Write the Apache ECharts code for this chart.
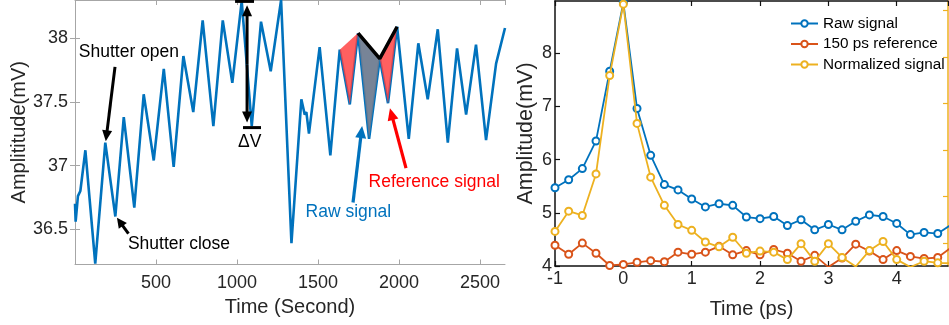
<!DOCTYPE html>
<html>
<head>
<meta charset="utf-8">
<script src="https://cdn.jsdelivr.net/npm/echarts@6/dist/echarts.min.js"></script>
<style>
  html, body { margin: 0; padding: 0; background: #fff; }
  #c { width: 949px; height: 325px; }
</style>
</head>
<body>
<div id="c"></div>
<script>
// ---- Left panel: photodetector amplitude over time (shutter cycling) ----
const rawTime = [0, 4, 18, 33, 64, 125, 187, 249, 301, 366, 424, 486, 548, 609, 669, 730, 788, 854, 912, 971,
  1029, 1091, 1148, 1208, 1272, 1336, 1397, 1418, 1428, 1444, 1510, 1576, 1634, 1696, 1747, 1815, 1881, 1932, 1988,
  2060, 2119, 2177, 2239, 2301, 2358, 2414, 2475, 2537, 2599, 2654];
const rawAmp = [36.70, 36.56, 36.76, 36.80, 37.12, 36.23, 37.18, 36.60, 37.38, 36.67, 37.56, 37.04, 37.76, 36.99, 37.86, 37.42, 38.14, 37.31, 38.14, 37.65,
  38.29, 37.31, 38.13, 37.74, 38.30, 36.39, 37.52, 37.40, 37.42, 37.25, 37.93, 37.08, 37.91, 37.48, 38.04, 37.21, 37.84, 37.49, 38.09,
  37.21, 37.96, 37.52, 38.07, 37.18, 37.92, 37.40, 37.95, 37.20, 37.80, 38.08];
const leftXTicks = [500, 1000, 1500, 2000, 2500];
const leftYTicks = [36.5, 37, 37.5, 38];

// sample indices (peak, trough, peak) of the highlighted dips
const refDips = [[32, 33, 34], [36, 37, 38]];
const rawDips = [[34, 35, 36]];
const envelopeIdx = [34, 36, 38];

// ---- Right panel: pump-probe traces vs delay ----
const delayPs = [-1, -0.8, -0.6, -0.4, -0.2, 0, 0.2, 0.4, 0.6, 0.8, 1, 1.2, 1.4, 1.6, 1.8, 2, 2.2, 2.4, 2.6, 2.8,
  3, 3.2, 3.4, 3.6, 3.8, 4, 4.2, 4.4, 4.6, 4.8];
const rawSignal = [5.47, 5.62, 5.83, 6.35, 7.66, 8.95, 6.96, 6.08, 5.53, 5.43, 5.26, 5.11, 5.17, 5.14, 4.92, 4.89, 4.93, 4.76, 4.87, 4.68,
  4.78, 4.68, 4.84, 4.96, 4.93, 4.80, 4.59, 4.63, 4.61, 4.78];
const refSignal = [4.39, 4.22, 4.43, 4.24, 4.01, 4.03, 4.07, 4.10, 4.08, 4.26, 4.22, 4.26, 4.37, 4.21, 4.29, 4.21, 4.31, 4.24, 4.09, 4.20,
  3.98, 4.15, 4.41, 4.28, 4.12, 4.29, 4.18, 4.14, 4.16, 4.35];
const normSignal = [4.65, 5.03, 4.95, 5.73, 7.58, 8.92, 6.68, 5.67, 5.14, 4.78, 4.67, 4.45, 4.36, 4.54, 4.24, 4.28, 4.26, 4.12, 4.42, 4.09,
  4.42, 4.16, 3.99, 4.29, 4.46, 4.12, 3.98, 4.09, 4.06, 4.05];
const seriesNames = ['Raw signal', '150 ps reference', 'Normalized signal'];

const FONT = '"Liberation Sans", Arial, Helvetica, sans-serif';
const BLUE = '#0072BD', ORANGE = '#D95319', YELLOW = '#EDB120';
const FRAME = '#a6a6a6', TEXT = '#262626';

const pair = (xs, ys) => xs.map((x, i) => [x, ys[i]]);
const tri = idx => idx.map(t => [rawTime[t[0]], rawAmp[t[0]], rawTime[t[1]], rawAmp[t[1]], rawTime[t[2]], rawAmp[t[2]]]);
const plain = v => String(v);

const chart = echarts.init(document.getElementById('c'), null, { renderer: 'canvas' });

const tickLabel = { color: TEXT, fontSize: 18, fontFamily: FONT, formatter: plain };
const nameStyle = { color: TEXT, fontSize: 20, fontFamily: FONT };

function triangleSeries(data, fill, opacity) {
  return {
    type: 'custom', xAxisIndex: 0, yAxisIndex: 0, z: 4,
    data: data,
    encode: { x: [0, 2, 4], y: [1, 3, 5] },
    renderItem: (params, api) => {
      const pts = [0, 1, 2].map(k => api.coord([api.value(2 * k), api.value(2 * k + 1)]));
      return { type: 'polygon', shape: { points: pts }, style: { fill: fill, opacity: opacity } };
    }
  };
}

chart.setOption({
  animation: false,
  backgroundColor: '#fff',
  textStyle: { fontFamily: FONT },
  grid: [
    { left: 75, top: 0, width: 430, height: 264.5 },
    { left: 555, top: 1, width: 393, height: 265 }
  ],
  legend: {
    orient: 'vertical', left: 785, top: 11, itemGap: 5.5, itemWidth: 27, itemHeight: 8,
    data: seriesNames,
    textStyle: { color: '#000', fontSize: 15.3, fontFamily: FONT }
  },
  xAxis: [
    {
      gridIndex: 0, type: 'value', min: 0, max: 2654, interval: 500,
      name: 'Time (Second)', nameLocation: 'middle', nameGap: 33, nameTextStyle: nameStyle,
      axisLine: { show: true, lineStyle: { color: FRAME, width: 1 } },
      axisTick: { inside: true, length: 5, lineStyle: { color: FRAME } },
      axisLabel: Object.assign({ margin: 10, showMinLabel: false, showMaxLabel: false }, tickLabel),
      splitLine: { show: false }
    },
    {
      gridIndex: 0, type: 'value', position: 'top', min: 0, max: 2654, interval: 500,
      axisLine: { show: true, lineStyle: { color: FRAME, width: 1 } },
      axisTick: { inside: true, length: 5, lineStyle: { color: FRAME } },
      axisLabel: { show: false }, splitLine: { show: false }
    },
    {
      gridIndex: 1, type: 'value', min: -1, max: 4.75, interval: 1,
      name: 'Time (ps)', nameLocation: 'middle', nameGap: 33, nameTextStyle: nameStyle,
      axisLine: { show: true, onZero: false, lineStyle: { color: '#111', width: 1.5 } },
      axisTick: { inside: true, length: 5, lineStyle: { color: '#111', width: 1.2 } },
      axisLabel: Object.assign({ margin: 4, showMaxLabel: false }, tickLabel),
      splitLine: { show: false }
    },
    {
      gridIndex: 1, type: 'value', position: 'top', min: -1, max: 4.75, interval: 1,
      axisLine: { show: true, onZero: false, lineStyle: { color: '#111', width: 1.5 } },
      axisTick: { inside: true, length: 5, lineStyle: { color: '#111', width: 1.2 } },
      axisLabel: { show: false }, splitLine: { show: false }
    }
  ],
  yAxis: [
    {
      gridIndex: 0, type: 'value', min: 36.223, max: 38.30,
      name: 'Amplititude(mV)', nameLocation: 'middle', nameGap: 45, nameTextStyle: nameStyle,
      axisLine: { show: true, lineStyle: { color: FRAME, width: 1 } },
      axisTick: { inside: true, length: 5, lineStyle: { color: FRAME }, customValues: leftYTicks },
      axisLabel: Object.assign({ margin: 7, customValues: leftYTicks }, tickLabel),
      splitLine: { show: false }
    },
    {
      gridIndex: 0, type: 'value', position: 'right', min: 36.223, max: 38.30,
      axisLine: { show: true, lineStyle: { color: FRAME, width: 1 } },
      axisTick: { inside: true, length: 5, lineStyle: { color: FRAME }, customValues: leftYTicks },
      axisLabel: { show: false }, splitLine: { show: false }
    },
    {
      gridIndex: 1, type: 'value', min: 4, max: 8.98, interval: 1,
      name: 'Amplitude(mV)', nameLocation: 'middle', nameGap: 18,
      nameTextStyle: { color: TEXT, fontSize: 21.5, fontFamily: FONT },
      axisLine: { show: true, onZero: false, lineStyle: { color: '#111', width: 1.5 } },
      axisTick: { inside: true, length: 5, lineStyle: { color: '#111', width: 1.2 } },
      axisLabel: Object.assign({ margin: 3, showMaxLabel: false }, tickLabel),
      splitLine: { show: false }
    },
    {
      gridIndex: 1, type: 'value', position: 'right', min: 0, max: 5.7,
      axisLine: { show: true, onZero: false, lineStyle: { color: YELLOW, width: 1.5 } },
      axisTick: { inside: true, length: 5, lineStyle: { color: YELLOW, width: 1.2 }, customValues: [0.5, 1.5, 2.5, 3.5, 4.5, 5.5] },
      axisLabel: { show: false }, splitLine: { show: false }
    }
  ],
  series: [
    {
      type: 'line', xAxisIndex: 0, yAxisIndex: 0, z: 3,
      data: pair(rawTime, rawAmp), showSymbol: false, symbol: 'none',
      lineStyle: { color: BLUE, width: 2.6 }
    },
    triangleSeries(tri(refDips), '#ff3d3d', 0.82),
    triangleSeries(tri(rawDips), '#6b7a8e', 0.92),
    {
      type: 'line', xAxisIndex: 0, yAxisIndex: 0, z: 5,
      data: envelopeIdx.map(i => [rawTime[i], rawAmp[i]]), symbol: 'none',
      lineStyle: { color: '#000', width: 3.5 }
    },
    ...[rawSignal, refSignal, normSignal].map((vals, k) => ({
      name: seriesNames[k], type: 'line', xAxisIndex: 2, yAxisIndex: 2, z: 3 + k,
      data: pair(delayPs, vals),
      symbol: 'emptyCircle', symbolSize: 7,
      itemStyle: { color: [BLUE, ORANGE, YELLOW][k], borderWidth: 1.5 },
      lineStyle: { color: [BLUE, ORANGE, YELLOW][k], width: 1.8 },
      emphasis: { disabled: true }
    }))
  ]
});

// ---- Annotations, anchored in the left panel's data coordinates ----
const px = (x, y) => chart.convertToPixel({ gridIndex: 0 }, [x, y]);

function arrow(from, to, color, width, head, headW) {
  const a = px(from[0], from[1]), b = px(to[0], to[1]);
  const dx = b[0] - a[0], dy = b[1] - a[1], L = Math.hypot(dx, dy);
  const ux = dx / L, uy = dy / L;
  const base = [b[0] - ux * head, b[1] - uy * head];
  return [
    { type: 'line', z: 10, shape: { x1: a[0], y1: a[1], x2: base[0] + ux * 1, y2: base[1] + uy * 1 },
      style: { stroke: color, lineWidth: width } },
    { type: 'polygon', z: 10, shape: { points: [b, [base[0] - uy * headW / 2, base[1] + ux * headW / 2], [base[0] + uy * headW / 2, base[1] - ux * headW / 2]] },
      style: { fill: color } }
  ];
}

function label(text, at, color, size) {
  const p = px(at[0], at[1]);
  return { type: 'text', z: 10, style: { text: text, x: p[0], y: p[1], fill: color, font: size + 'px ' + FONT,
    align: 'center', verticalAlign: 'middle', textAlign: 'center', textVerticalAlign: 'middle' } };
}

function hbar(x0, x1, y) {
  const a = px(x0, y), b = px(x1, y);
  return { type: 'line', z: 10, shape: { x1: a[0], y1: a[1], x2: b[0], y2: b[1] }, style: { stroke: '#000', lineWidth: 3 } };
}

const dvX = 1062, dvTop = 38.289, dvBottom = 37.298;
const graphics = [
  label('Shutter open', [333, 37.89], '#000', 17.5),
  ...arrow([247, 37.775], [190, 37.19], '#000', 3, 11, 10),
  label('Shutter close', [642, 36.384], '#000', 17.5),
  ...arrow([330, 36.465], [259, 36.59], '#000', 3, 10, 10),
  hbar(988, 1105, dvTop),
  hbar(1037, 1148, dvBottom),
  ...arrow([dvX, (dvTop + dvBottom) / 2], [dvX, dvTop - 0.03], '#000', 3, 11, 10),
  ...arrow([dvX, (dvTop + dvBottom) / 2], [dvX, dvBottom + 0.04], '#000', 3, 11, 10),
  label('\u0394V', [1078, 37.18], '#000', 17.5),
  ...arrow([1716, 36.71], [1772, 37.31], BLUE, 3.2, 12, 11),
  label('Raw signal', [1687, 36.63], BLUE, 17.5),
  ...arrow([2043, 36.98], [1944, 37.45], '#ff0000', 3.2, 12, 11),
  label('Reference signal', [2217, 36.87], '#ff0000', 17.5)
];
chart.setOption({ graphic: graphics });
</script>
</body>
</html>
